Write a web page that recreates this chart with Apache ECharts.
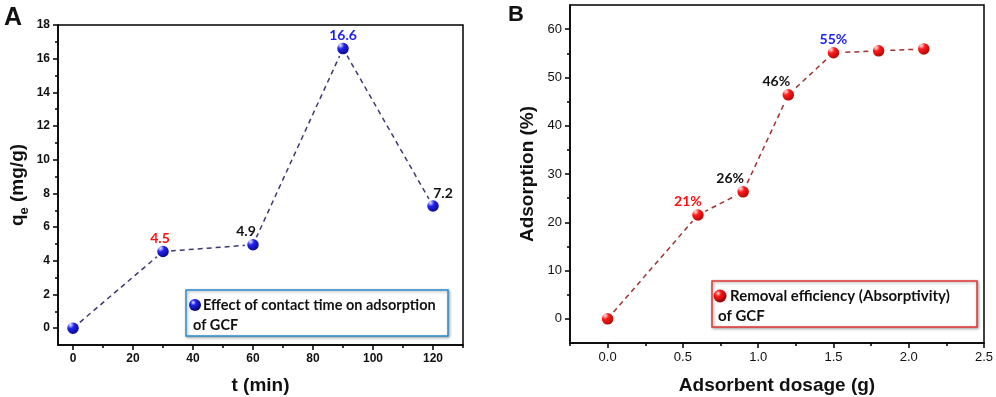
<!DOCTYPE html>
<html>
<head>
<meta charset="utf-8">
<script src="https://cdn.jsdelivr.net/npm/echarts@6/dist/echarts.min.js"></script>
<style>
html, body { margin: 0; padding: 0; background: #fff; }
#main { width: 996px; height: 397px; }
</style>
</head>
<body>
<div id="main"></div>
<script>
// panel A - contact time
var timeMin = [0, 30, 60, 90, 120];
var qe = [0, 4.55, 4.95, 16.6, 7.25];
var qeLabels = ['', '4.5', '4.9', '16.6', '7.2'];
var tTicks = [0, 20, 40, 60, 80, 100, 120];
var tMinor = [10, 30, 50, 70, 90, 110, 130];
var qTicks = [0, 2, 4, 6, 8, 10, 12, 14, 16, 18];
var qMinor = [1, 3, 5, 7, 9, 11, 13, 15, 17];

// panel B - adsorbent dosage
var dosage = [0, 0.6, 0.9, 1.2, 1.5, 1.8, 2.1];
var adsorption = [0, 21.5, 26.3, 46.4, 55.1, 55.5, 55.9];
var adsLabels = ['', '21%', '26%', '46%', '55%', '', ''];
var dTicks = [0, 0.5, 1, 1.5, 2, 2.5];
var dMinor = [-0.25, 0.25, 0.75, 1.25, 1.75, 2.25];
var aTicks = [0, 10, 20, 30, 40, 50, 60];
var aMinor = [5, 15, 25, 35, 45, 55];

var seriesNames = ['Effect of contact time on adsorption', 'Removal efficiency (Absorptivity)'];

// label look per point (style only)
var labStyleA = [null,
    { color: '#ff1010', offset: [-3, 0] },
    { color: '#111', offset: [-7, 0] },
    { color: '#1a1aff', offset: [0, 0] },
    { color: '#111', offset: [10, 1] }];
var labStyleB = [null,
    { color: '#ff1010', offset: [-10, 0] },
    { color: '#111', offset: [-13, 0] },
    { color: '#111', offset: [-12, 0] },
    { color: '#1a1aff', offset: [0, 0] }, null, null];

var myChart = echarts.init(document.getElementById('main'));

function sphere(light, mid, dark) {
    return new echarts.graphic.RadialGradient(0.35, 0.3, 0.75, [
        { offset: 0, color: light },
        { offset: 0.3, color: mid },
        { offset: 1, color: dark }
    ]);
}
var blueBall = sphere('#e8e8ff', '#2222ee', '#00005a');
var redBall = sphere('#ffe6e6', '#ff1a1a', '#8a0000');

function pts(xs, ys, labels, styles, fs) {
    return xs.map(function (x, i) {
        var p = { value: [x, ys[i]] };
        if (labels[i]) {
            p.label = {
                show: true, formatter: labels[i], position: 'top', distance: -2,
                color: styles[i].color, offset: styles[i].offset,
                fontFamily: 'Lato', fontWeight: 'bold', fontSize: fs
            };
        }
        return p;
    });
}

var black = { color: '#000', width: 1.5 };

function majorAxis(o) {
    return {
        type: 'value', gridIndex: o.grid, min: o.min, max: o.max, position: o.pos,
        name: o.name, nameLocation: 'middle', nameGap: o.gap,
        nameTextStyle: o.nameStyle,
        axisLine: { show: true, onZero: false, lineStyle: black },
        axisTick: { show: true, customValues: o.ticks, length: 5, lineStyle: black },
        axisLabel: {
            customValues: o.ticks, color: '#111', fontFamily: 'Arial',
            fontSize: o.fs, fontWeight: o.fw, margin: 8, formatter: o.fmt
        },
        splitLine: { show: false }
    };
}
function minorAxis(o) {
    return {
        type: 'value', gridIndex: o.grid, min: o.min, max: o.max, position: o.pos,
        axisLine: { show: false, onZero: false },
        axisTick: { show: true, customValues: o.ticks, length: 3, lineStyle: black },
        axisLabel: { show: false },
        splitLine: { show: false }
    };
}

var titleStyle = { fontFamily: 'Arial', fontWeight: 'bold', fontSize: 19, color: '#111' };

option = {
    animation: false,
    grid: [
        { left: 58, top: 25, width: 405, height: 320, outerBoundsMode: 'none', containLabel: false,
          show: true, borderColor: '#000', borderWidth: 1.5 },
        { left: 570, top: 5, width: 414, height: 338, outerBoundsMode: 'none', containLabel: false,
          show: true, borderColor: '#000', borderWidth: 1.5 }
    ],
    xAxis: [
        majorAxis({ grid: 0, min: -5, max: 130, pos: 'bottom', ticks: tTicks, fs: 12, fw: 'bold',
            name: 't (min)', gap: 31, nameStyle: titleStyle }),
        minorAxis({ grid: 0, min: -5, max: 130, pos: 'bottom', ticks: tMinor }),
        majorAxis({ grid: 1, min: -0.25, max: 2.5, pos: 'bottom', ticks: dTicks, fs: 13, fw: 'normal',
            fmt: function (v) { return v.toFixed(1); },
            name: 'Adsorbent dosage (g)', gap: 33, nameStyle: titleStyle }),
        minorAxis({ grid: 1, min: -0.25, max: 2.5, pos: 'bottom', ticks: dMinor })
    ],
    yAxis: [
        majorAxis({ grid: 0, min: -1, max: 18, pos: 'left', ticks: qTicks, fs: 12, fw: 'bold',
            name: '{q|q}{e|e}{q| (mg/g)}', gap: 31,
            nameStyle: { rich: {
                q: { fontFamily: 'Arial', fontWeight: 'bold', fontSize: 19, color: '#111' },
                e: { fontFamily: 'Arial', fontWeight: 'bold', fontSize: 13, color: '#111', verticalAlign: 'bottom', padding: [0, 0, -4, 0] }
            } } }),
        minorAxis({ grid: 0, min: -1, max: 18, pos: 'left', ticks: qMinor }),
        majorAxis({ grid: 1, min: -5, max: 65, pos: 'left', ticks: aTicks, fs: 13, fw: 'normal',
            name: 'Adsorption (%)', gap: 33, nameStyle: titleStyle }),
        minorAxis({ grid: 1, min: -5, max: 65, pos: 'left', ticks: aMinor })
    ],
    series: [
        {
            name: seriesNames[0], type: 'line', xAxisIndex: 0, yAxisIndex: 0,
            data: pts(timeMin, qe, qeLabels, labStyleA, 14),
            symbol: 'circle', symbolSize: 14,
            itemStyle: { color: blueBall, borderColor: '#fff', borderWidth: 2.5 },
            lineStyle: { color: '#3b3b72', width: 1.5, type: [5, 4] }
        },
        {
            name: seriesNames[1], type: 'line', xAxisIndex: 2, yAxisIndex: 2,
            data: pts(dosage, adsorption, adsLabels, labStyleB, 14),
            symbol: 'circle', symbolSize: 14,
            itemStyle: { color: redBall, borderColor: '#fff', borderWidth: 2.5 },
            lineStyle: { color: '#a33030', width: 1.5, type: [5, 4] }
        }
    ],
    graphic: [
        { type: 'text', left: 4, top: 6, style: { text: 'A', font: 'bold 25px Arial', fill: '#111' } },
        { type: 'text', left: 508, top: 4, style: { text: 'B', font: 'bold 22px Arial', fill: '#111' } },
        // legend box A
        { type: 'rect', shape: { x: 186, y: 290, width: 262, height: 46 },
          style: { fill: '#fff', stroke: '#2a8fd0', lineWidth: 1.5, shadowBlur: 3, shadowColor: 'rgba(0,0,0,0.35)', shadowOffsetX: 1, shadowOffsetY: 1 } },
        { type: 'circle', shape: { cx: 195, cy: 305, r: 6 }, style: { fill: blueBall } },
        { type: 'text', x: 203, y: 305, style: { text: seriesNames[0], font: 'bold 14.5px Lato', fill: '#111', verticalAlign: 'middle' } },
        { type: 'text', x: 193, y: 325, style: { text: 'of GCF', font: 'bold 14.5px Lato', fill: '#111', verticalAlign: 'middle' } },
        // legend box B
        { type: 'rect', shape: { x: 712, y: 281, width: 265, height: 46 },
          style: { fill: '#fff', stroke: '#e03535', lineWidth: 1.5, shadowBlur: 3, shadowColor: 'rgba(0,0,0,0.35)', shadowOffsetX: 1, shadowOffsetY: 1 } },
        { type: 'circle', shape: { cx: 720, cy: 296, r: 6.5 }, style: { fill: redBall } },
        { type: 'text', x: 730, y: 296, style: { text: seriesNames[1], font: 'bold 15px Lato', fill: '#111', verticalAlign: 'middle' } },
        { type: 'text', x: 718, y: 316, style: { text: 'of GCF', font: 'bold 15px Lato', fill: '#111', verticalAlign: 'middle' } }
    ]
};

myChart.setOption(option);
</script>
</body>
</html>
